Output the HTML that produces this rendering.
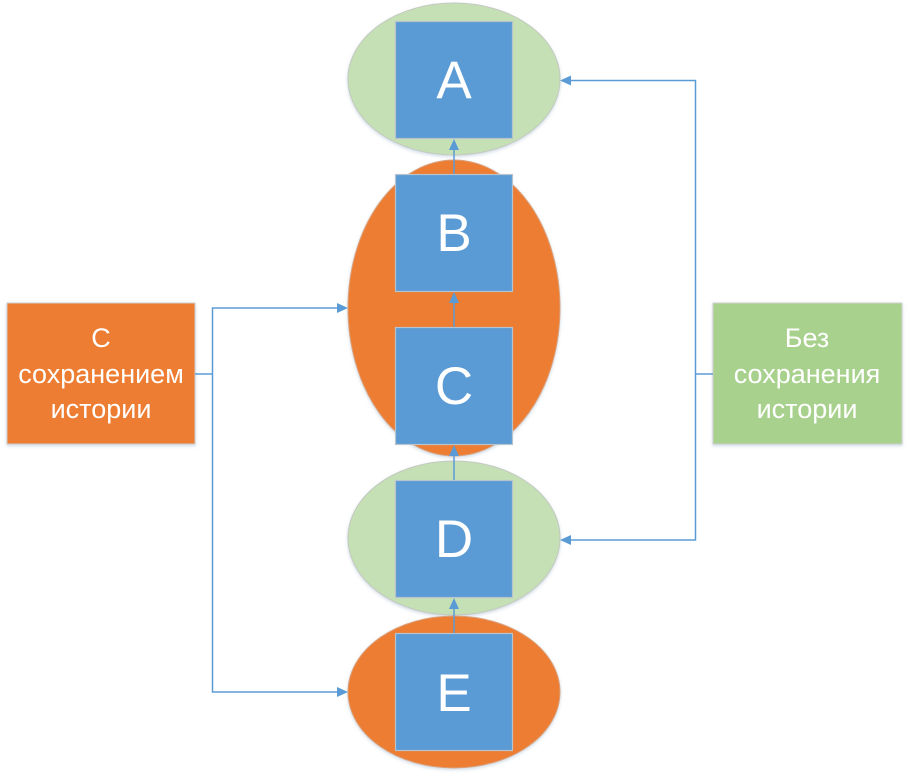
<!DOCTYPE html>
<html><head><meta charset="utf-8"><style>
html,body{margin:0;padding:0;background:#fff;}
svg{display:block;}
text{font-family:"Liberation Sans",sans-serif;fill:#fff;}
</style></head><body>
<svg width="908" height="778" viewBox="0 0 908 778" xmlns="http://www.w3.org/2000/svg">
<defs>
<filter id="sh" x="-10%" y="-10%" width="120%" height="120%">
<feDropShadow dx="0" dy="1.5" stdDeviation="1.5" flood-color="#9fb6cc" flood-opacity="0.5"/>
</filter>
</defs>
<!-- ellipses -->
<ellipse cx="454" cy="79" rx="106" ry="76" fill="#C5E0B4" stroke="#c4c9c0" stroke-width="1" filter="url(#sh)"/>
<ellipse cx="454" cy="308" rx="106" ry="148" fill="#ED7D31" stroke="#d9a27e" stroke-width="1" filter="url(#sh)"/>
<ellipse cx="454" cy="538" rx="106" ry="77" fill="#C5E0B4" stroke="#c4c9c0" stroke-width="1" filter="url(#sh)"/>
<ellipse cx="454" cy="692" rx="106" ry="76" fill="#ED7D31" stroke="#d9a27e" stroke-width="1" filter="url(#sh)"/>
<!-- boxes -->
<g fill="#5B9BD5" stroke="#b7c4cf" stroke-width="1.2">
<rect x="395.5" y="21.5" width="117" height="117"/>
<rect x="395.5" y="174.5" width="117" height="117"/>
<rect x="395.5" y="327.5" width="117" height="117"/>
<rect x="395.5" y="480.5" width="117" height="117"/>
<rect x="395.5" y="633.5" width="117" height="117"/>
</g>
<g font-size="53" text-anchor="middle">
<text x="454" y="98">A</text>
<text x="454" y="251">B</text>
<text x="454" y="404">C</text>
<text x="454" y="557">D</text>
<text x="454" y="711">E</text>
</g>
<!-- side boxes -->
<rect x="7" y="303" width="188" height="141" fill="#ED7D31" stroke="#cfcfcf" stroke-width="1" filter="url(#sh)"/>
<rect x="713" y="303" width="189" height="141" fill="#A9D18E" stroke="#cfcfcf" stroke-width="1" filter="url(#sh)"/>
<g font-size="27" text-anchor="middle">
<text x="101" y="347">С</text>
<text x="101" y="383">сохранением</text>
<text x="101" y="418">истории</text>
<text x="807" y="347">Без</text>
<text x="807" y="383">сохранения</text>
<text x="807" y="418">истории</text>
</g>
<!-- connectors -->
<g stroke="#5B9BD5" stroke-width="1.5" fill="none">
<line x1="454" y1="174" x2="454" y2="148"/>
<line x1="454" y1="327" x2="454" y2="302"/>
<line x1="454" y1="480" x2="454" y2="455"/>
<line x1="454" y1="633" x2="454" y2="608"/>
<polyline points="195,374 212.5,374"/>
<polyline points="337,308 212.5,308 212.5,692 337,692"/>
<polyline points="713,374 695.5,374"/>
<polyline points="571,80.5 695.5,80.5 695.5,540 571,540"/>
</g>
<g fill="#5B9BD5">
<polygon points="454,139 449,150 459,150"/>
<polygon points="454,292 449,303 459,303"/>
<polygon points="454,445 449,456 459,456"/>
<polygon points="454,598 449,609 459,609"/>
<polygon points="348,308 337,303 337,313"/>
<polygon points="348,692 337,687 337,697"/>
<polygon points="560,80.5 571,75.5 571,85.5"/>
<polygon points="560,540 571,535 571,545"/>
</g>
</svg>
</body></html>
